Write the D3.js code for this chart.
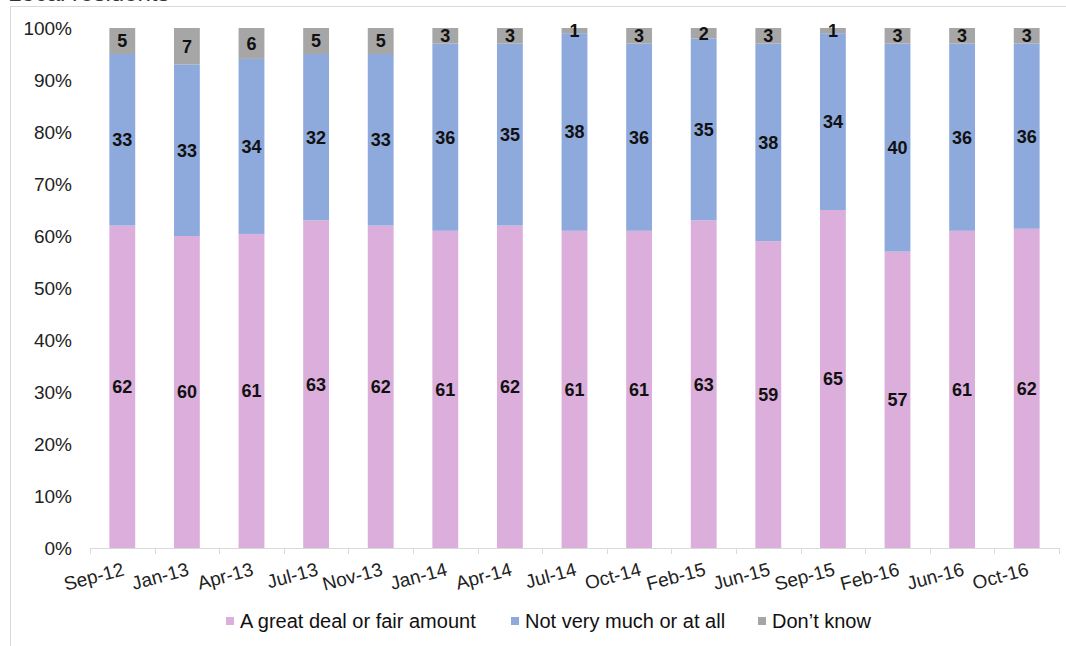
<!DOCTYPE html>
<html>
<head>
<meta charset="utf-8">
<script src="https://cdn.jsdelivr.net/npm/d3@7"></script>
<style>
  html, body { margin: 0; padding: 0; background: #fff; }
  svg { display: block; font-family: "Liberation Sans", Arial, sans-serif; }
</style>
</head>
<body>
<svg id="chart" width="1066" height="646"></svg>
<script>
// Survey waves
const categories = ["Sep-12","Jan-13","Apr-13","Jul-13","Nov-13","Jan-14","Apr-14","Jul-14","Oct-14","Feb-15","Jun-15","Sep-15","Feb-16","Jun-16","Oct-16"];
// Answer shares (%) per wave
const greatDeal = [62, 60, 61, 63, 62, 61, 62, 61, 61, 63, 59, 65, 57, 61, 62];
const notMuch   = [33, 33, 34, 32, 33, 36, 35, 38, 36, 35, 38, 34, 40, 36, 36];
const dontKnow  = [ 5,  7,  6,  5,  5,  3,  3,  1,  3,  2,  3,  1,  3,  3,  3];
const seriesNames = ["A great deal or fair amount", "Not very much or at all", "Don\u2019t know"];
const seriesColors = ["#dcaedb", "#8eaadc", "#a6a6a6"];
const yTicks = [0, 0.1, 0.2, 0.3, 0.4, 0.5, 0.6, 0.7, 0.8, 0.9, 1.0];

const svg = d3.select("#chart");

// Outer frame
svg.append("path")
  .attr("d", "M10.5,646 V6.5 H1066")
  .attr("fill", "none").attr("stroke", "#d9d9d9").attr("stroke-width", 1);

// Title (runs off the top edge)
svg.append("text").attr("x", 8).attr("y", 1)
  .attr("font-size", 24).attr("fill", "#333").text("Local residents");

const margin = { left: 90, right: 1059, top: 28, bottom: 548 };

const x = d3.scaleBand().domain(categories).range([margin.left, margin.right]).paddingInner(0).paddingOuter(0);
const y = d3.scaleLinear().domain([0, 1]).range([margin.bottom, margin.top]);

// Build normalised stack
const rows = categories.map((c, i) => {
  const tot = greatDeal[i] + notMuch[i] + dontKnow[i];
  return { cat: c, vals: [greatDeal[i], notMuch[i], dontKnow[i]], tot };
});
const keys = [0, 1, 2];
const stack = d3.stack().keys(keys).value((d, k) => d.vals[k] / d.tot);
const layers = stack(rows);

const barW = x.bandwidth() * 0.4;

const g = svg.append("g");
layers.forEach((layer, li) => {
  g.selectAll(null).data(layer).enter().append("rect")
    .attr("x", d => x(d.data.cat) + (x.bandwidth() - barW) / 2)
    .attr("width", barW)
    .attr("y", d => y(d[1]))
    .attr("height", d => y(d[0]) - y(d[1]))
    .attr("fill", seriesColors[li]);
});

// Value labels
layers.forEach((layer, li) => {
  g.selectAll(null).data(layer).enter().append("text")
    .attr("x", d => x(d.data.cat) + x.bandwidth() / 2)
    .attr("y", d => (y(d[0]) + y(d[1])) / 2)
    .attr("dy", "0.36em")
    .attr("text-anchor", "middle")
    .attr("font-size", 18).attr("font-weight", "bold").attr("fill", "#111")
    .text(d => d.data.vals[li]);
});

// Y axis labels
const yAxis = d3.axisLeft(y).tickValues(yTicks).tickFormat(d3.format(".0%")).tickSize(0).tickPadding(0);
const ya = svg.append("g").attr("transform", "translate(72,0)").call(yAxis);
ya.select(".domain").remove();
ya.selectAll("text").attr("font-size", 19).attr("fill", "#222")
  .attr("font-family", "Liberation Sans, Arial, sans-serif");

// X axis
const xAxis = d3.axisBottom(x).tickSize(0).tickFormat("");
const xa = svg.append("g").attr("transform", `translate(0,${margin.bottom})`).call(xAxis);
xa.select(".domain").attr("stroke", "#d9d9d9");
// tick marks at band boundaries
const bounds = categories.map(c => x(c)).concat([x(categories[categories.length - 1]) + x.bandwidth()]);
xa.selectAll(".bound").data(bounds).enter().append("line")
  .attr("x1", d => Math.round(d) + 0.5).attr("x2", d => Math.round(d) + 0.5)
  .attr("y1", 0).attr("y2", 6).attr("stroke", "#d9d9d9");

// Category labels, rotated
svg.append("g").selectAll("text").data(categories).enter().append("text")
  .attr("transform", d => `translate(${x(d) + x.bandwidth() / 2 + 3},${margin.bottom + 27}) rotate(-15)`)
  .attr("text-anchor", "end")
  .attr("font-size", 19).attr("fill", "#222")
  .text(d => d);

// Legend
const legendItems = [
  { name: seriesNames[0], color: seriesColors[0], x: 226 },
  { name: seriesNames[1], color: seriesColors[1], x: 511 },
  { name: seriesNames[2], color: seriesColors[2], x: 758 }
];
const lg = svg.append("g");
legendItems.forEach(it => {
  lg.append("rect").attr("x", it.x).attr("y", 617).attr("width", 8).attr("height", 8).attr("fill", it.color);
  lg.append("text").attr("x", it.x + 14).attr("y", 628)
    .attr("font-size", 20).attr("fill", "#111").text(it.name);
});
</script>
</body>
</html>
